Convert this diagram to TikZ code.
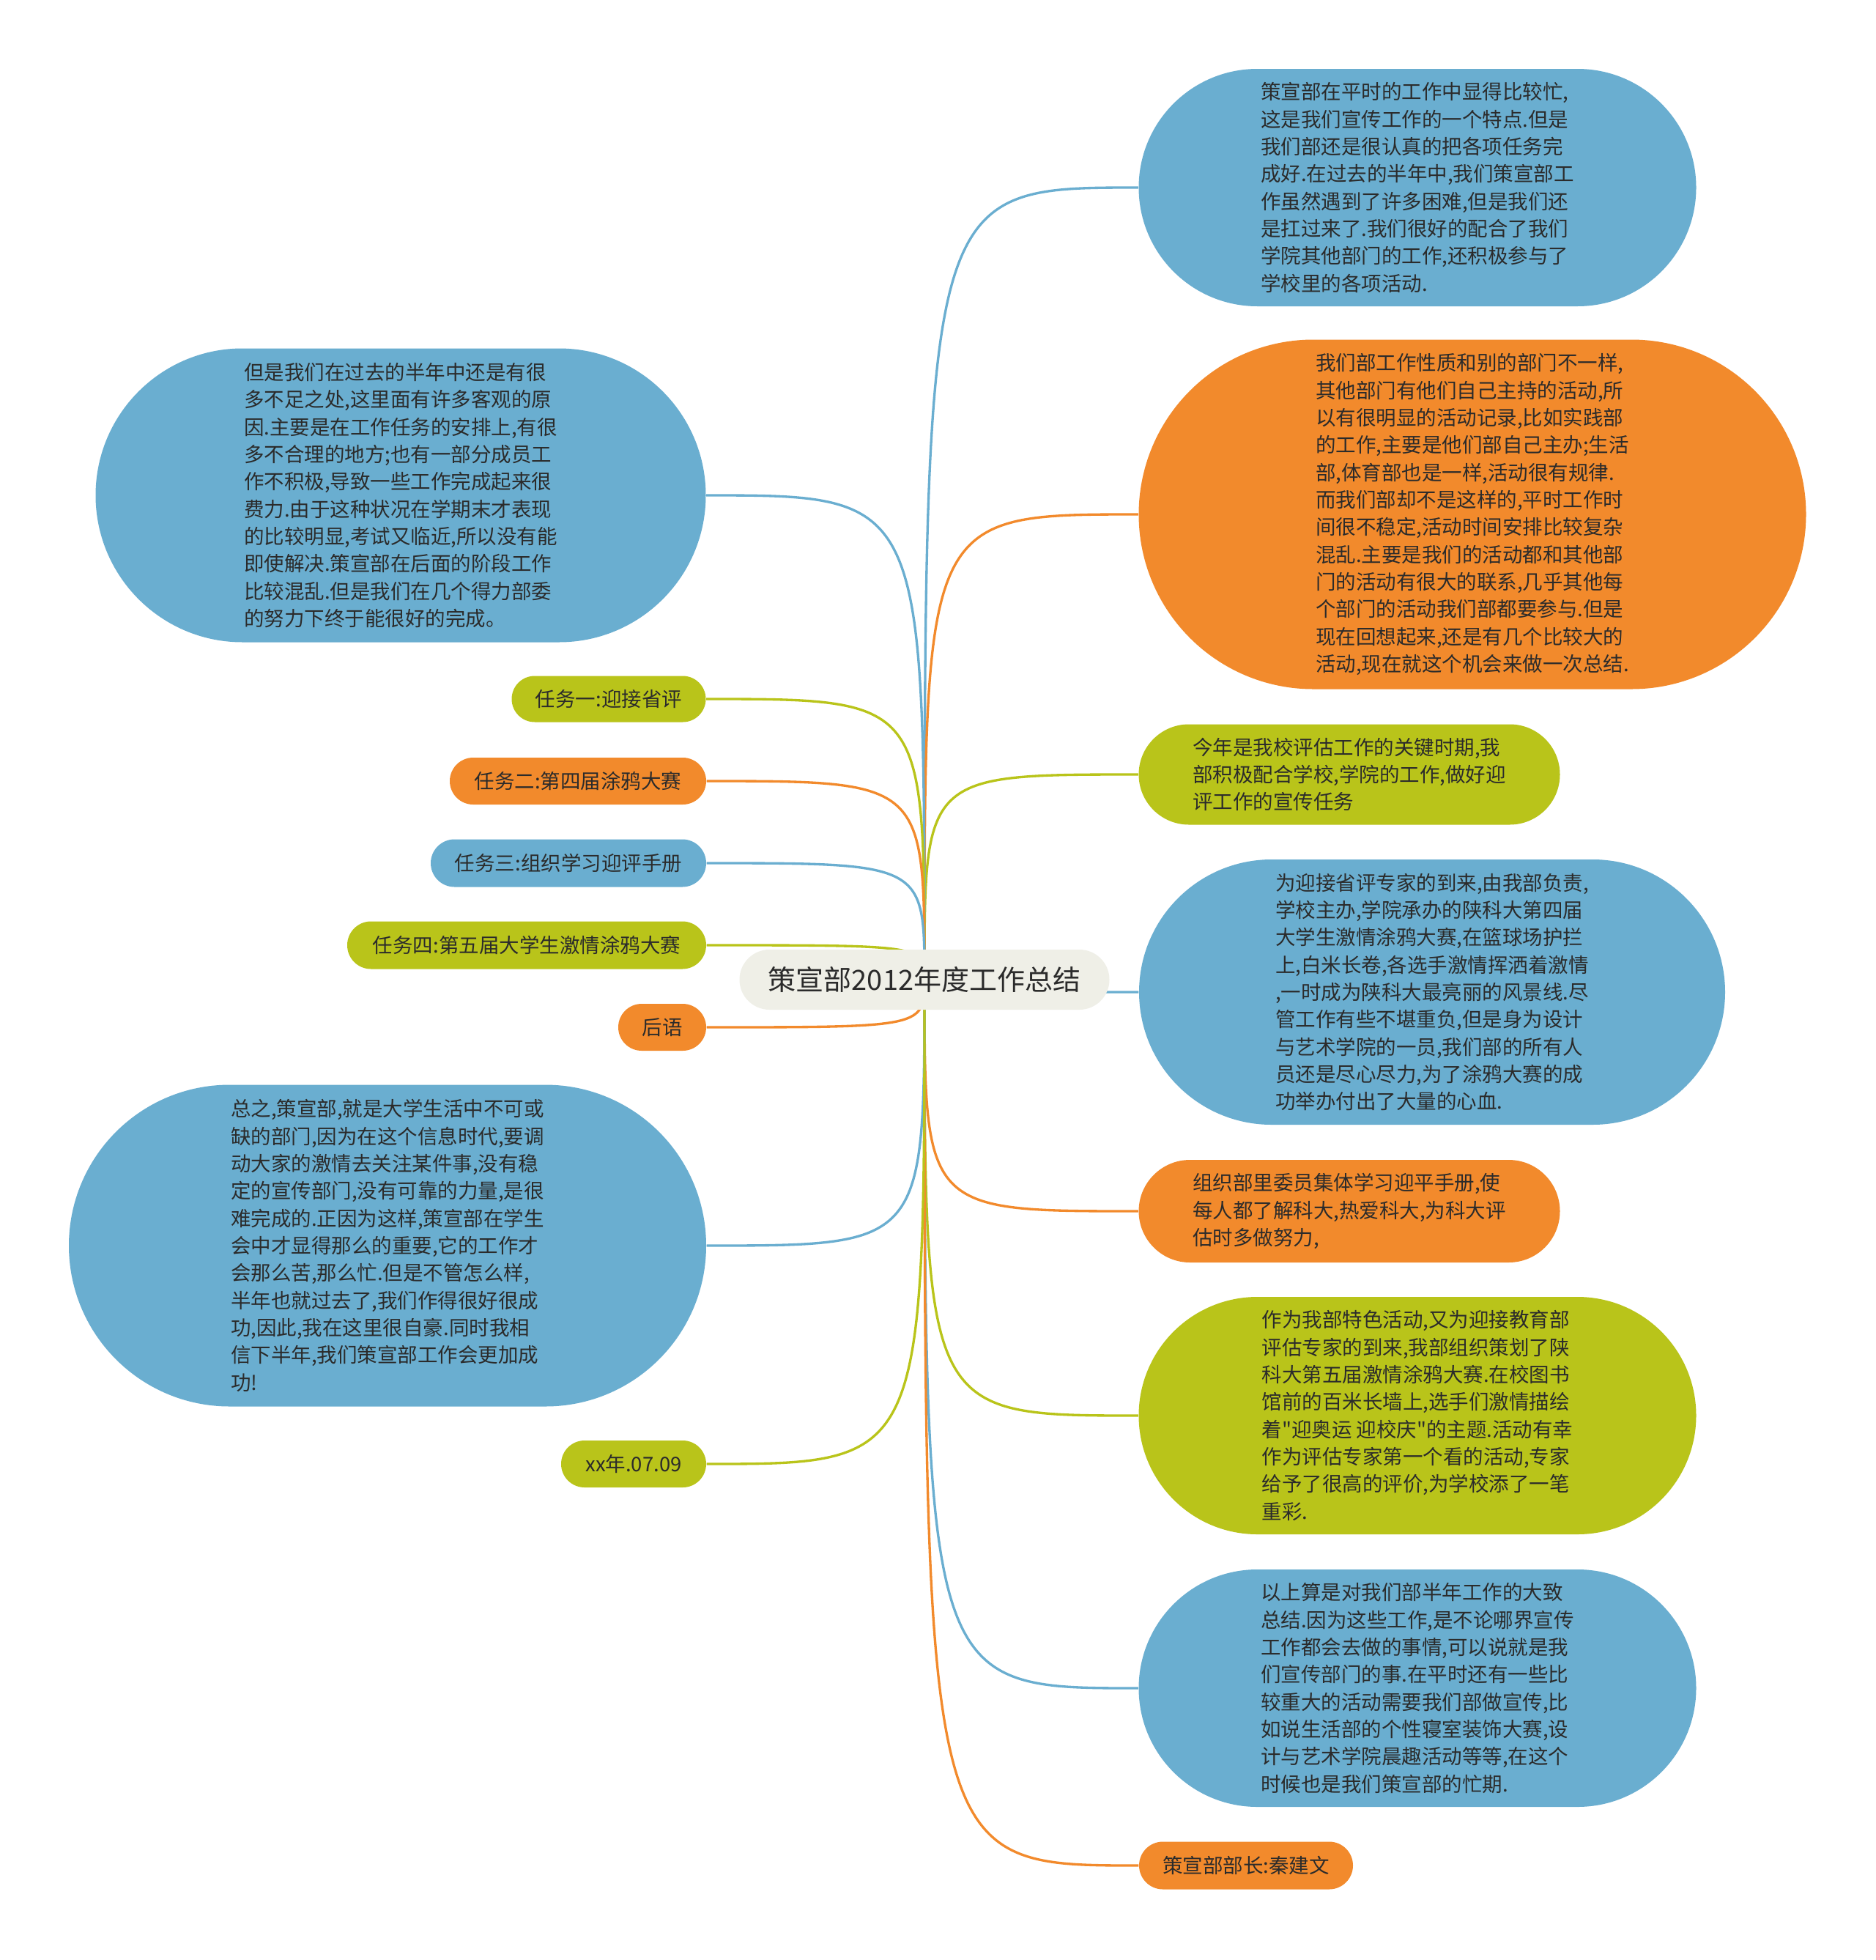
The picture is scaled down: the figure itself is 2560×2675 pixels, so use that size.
\documentclass[tikz,border=0pt]{standalone}
\usepackage{fontspec}
\setmainfont{Noto Sans CJK SC}
\newfontfamily\cjk{Noto Sans CJK SC}
\usetikzlibrary{backgrounds}

\definecolor{blu}{HTML}{6AAED0}
\definecolor{ara}{HTML}{F28A2C}
\definecolor{ver}{HTML}{B9C41A}
\definecolor{radice}{HTML}{EFEFE7}
\definecolor{testo}{HTML}{2B2B2B}

\tikzset{
  pill/.style 2 args={rectangle, inner sep=0pt, align=left, text=testo,
    minimum width=#1*0.3pt, minimum height=#2*0.3pt, rounded corners=#2*0.15pt,
    font=\cjk\fontsize{8.25}{11.2}\selectfont},
  ramo/.style={line width=1pt},
}

\begin{document}
\begin{tikzpicture}[x=0.3pt,y=-0.3pt]

\useasboundingbox (0,0) rectangle (2560,2675);

% centro
\node[pill={505}{82}, fill=radice, font=\cjk\fontsize{11.4}{14}\selectfont] (root) at (1262,1337) {策宣部2012年度工作总结};

% destra
\node[pill={761}{324}, fill=blu] (r1) at (1935,256) {策宣部在平时的工作中显得比较忙,\\
这是我们宣传工作的一个特点.但是\\
我们部还是很认真的把各项任务完\\
成好.在过去的半年中,我们策宣部工\\
作虽然遇到了许多困难,但是我们还\\
是扛过来了.我们很好的配合了我们\\
学院其他部门的工作,还积极参与了\\
学校里的各项活动.};

\node[pill={911}{477}, fill=ara] (r2) at (2010,702) {我们部工作性质和别的部门不一样,\\
其他部门有他们自己主持的活动,所\\
以有很明显的活动记录,比如实践部\\
的工作,主要是他们部自己主办;生活\\
部,体育部也是一样,活动很有规律.\\
而我们部却不是这样的,平时工作时\\
间很不稳定,活动时间安排比较复杂\\
混乱.主要是我们的活动都和其他部\\
门的活动有很大的联系,几乎其他每\\
个部门的活动我们部都要参与.但是\\
现在回想起来,还是有几个比较大的\\
活动,现在就这个机会来做一次总结.};

\node[pill={575}{137}, fill=ver] (r3) at (1842,1057) {今年是我校评估工作的关键时期,我\\
部积极配合学校,学院的工作,做好迎\\
评工作的宣传任务};

\node[pill={800}{362}, fill=blu] (r4) at (1955,1354) {为迎接省评专家的到来,由我部负责,\\
学校主办,学院承办的陕科大第四届\\
大学生激情涂鸦大赛,在篮球场护拦\\
上,白米长卷,各选手激情挥洒着激情\\
,一时成为陕科大最亮丽的风景线.尽\\
管工作有些不堪重负,但是身为设计\\
与艺术学院的一员,我们部的所有人\\
员还是尽心尽力,为了涂鸦大赛的成\\
功举办付出了大量的心血.};

\node[pill={575}{140}, fill=ara] (r5) at (1842,1653) {组织部里委员集体学习迎平手册,使\\
每人都了解科大,热爱科大,为科大评\\
估时多做努力,};

\node[pill={761}{324}, fill=ver] (r6) at (1935,1932) {作为我部特色活动,又为迎接教育部\\
评估专家的到来,我部组织策划了陕\\
科大第五届激情涂鸦大赛.在校图书\\
馆前的百米长墙上,选手们激情描绘\\
着"迎奥运 迎校庆"的主题.活动有幸\\
作为评估专家第一个看的活动,专家\\
给予了很高的评价,为学校添了一笔\\
重彩.};

\node[pill={761}{324}, fill=blu] (r7) at (1935,2304) {以上算是对我们部半年工作的大致\\
总结.因为这些工作,是不论哪界宣传\\
工作都会去做的事情,可以说就是我\\
们宣传部门的事.在平时还有一些比\\
较重大的活动需要我们部做宣传,比\\
如说生活部的个性寝室装饰大赛,设\\
计与艺术学院晨趣活动等等,在这个\\
时候也是我们策宣部的忙期.};

\node[pill={292}{65}, fill=ara] (r8) at (1701,2546) {策宣部部长:秦建文};

% sinistra
\node[pill={833}{401}, fill=blu] (l1) at (547,676) {但是我们在过去的半年中还是有很\\
多不足之处,这里面有许多客观的原\\
因.主要是在工作任务的安排上,有很\\
多不合理的地方;也有一部分成员工\\
作不积极,导致一些工作完成起来很\\
费力.由于这种状况在学期末才表现\\
的比较明显,考试又临近,所以没有能\\
即使解决.策宣部在后面的阶段工作\\
比较混乱.但是我们在几个得力部委\\
的努力下终于能很好的完成。};

\node[pill={265}{63}, fill=ver] (l2) at (831,954) {任务一:迎接省评};
\node[pill={350}{64}, fill=ara] (l3) at (789,1066) {任务二:第四届涂鸦大赛};
\node[pill={376}{65}, fill=blu] (l4) at (776,1178) {任务三:组织学习迎评手册};
\node[pill={490}{65}, fill=ver] (l5) at (719,1290) {任务四:第五届大学生激情涂鸦大赛};
\node[pill={120}{64}, fill=ara] (l6) at (904,1402) {后语};

\node[pill={870}{439}, fill=blu] (l7) at (529,1700) {总之,策宣部,就是大学生活中不可或\\
缺的部门,因为在这个信息时代,要调\\
动大家的激情去关注某件事,没有稳\\
定的宣传部门,没有可靠的力量,是很\\
难完成的.正因为这样,策宣部在学生\\
会中才显得那么的重要,它的工作才\\
会那么苦,那么忙.但是不管怎么样,\\
半年也就过去了,我们作得很好很成\\
功,因此,我在这里很自豪.同时我相\\
信下半年,我们策宣部工作会更加成\\
功!};

\node[pill={198}{64}, fill=ver] (l8) at (865,1998) {xx年.07.09};

% rami
\begin{scope}[on background layer]
\fill[white] (0,0) rectangle (2560,2675);
\foreach \n/\c in {r1/blu,r2/ara,r3/ver,r4/blu,r5/ara,r6/ver,r7/blu,r8/ara}
  \draw[ramo, \c] (root.center) .. controls (root.center |- \n.west) .. (\n.west);
\foreach \n/\c in {l1/blu,l2/ver,l3/ara,l4/blu,l5/ver,l6/ara,l7/blu,l8/ver}
  \draw[ramo, \c] (root.center) .. controls (root.center |- \n.east) .. (\n.east);
\end{scope}

\end{tikzpicture}
\end{document}
